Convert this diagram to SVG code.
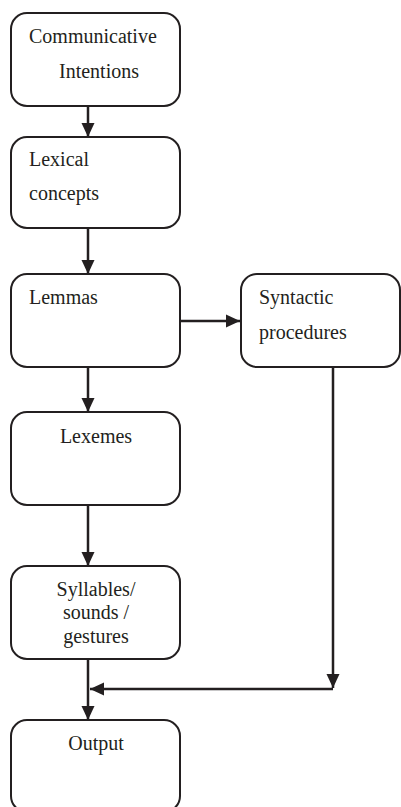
<svg xmlns="http://www.w3.org/2000/svg" width="401" height="807" viewBox="0 0 401 807">
<style>
.box{fill:#fff;stroke:#231f20;stroke-width:2}
.t{font-family:"Liberation Serif","Times New Roman",serif;font-size:20px;fill:#231f20}
.c{text-anchor:middle}
.ln{stroke:#231f20;stroke-width:2.5;fill:none}
</style>
<defs>
<marker id="ah" markerUnits="userSpaceOnUse" markerWidth="14" markerHeight="14" viewBox="0 0 14 14" refX="14" refY="7" orient="auto">
<path d="M0,0.5 L14,7 L0,13.5 Z" fill="#231f20"/>
</marker>
</defs>
<rect width="401" height="807" fill="#fff"/>
<g id="connectors">
<line class="ln" x1="88" y1="106" x2="88" y2="137" marker-end="url(#ah)"/>
<line class="ln" x1="88" y1="228" x2="88" y2="274" marker-end="url(#ah)"/>
<line class="ln" x1="180" y1="321" x2="240" y2="321" marker-end="url(#ah)"/>
<line class="ln" x1="88" y1="367" x2="88" y2="412" marker-end="url(#ah)"/>
<line class="ln" x1="88" y1="505" x2="88" y2="566" marker-end="url(#ah)"/>
<line class="ln" x1="333" y1="367" x2="333" y2="688" marker-end="url(#ah)"/>
<line class="ln" x1="333" y1="689" x2="90" y2="689" marker-end="url(#ah)"/>
<line class="ln" x1="88" y1="659" x2="88" y2="720" marker-end="url(#ah)"/>
</g>
<g id="n1">
<rect class="box" x="11" y="13" width="169" height="93" rx="16"/>
<text class="t" x="29" y="43">Communicative</text>
<text class="t" x="59" y="78">Intentions</text>
</g>
<g id="n2">
<rect class="box" x="11" y="137" width="169" height="91" rx="16"/>
<text class="t" x="29" y="166">Lexical</text>
<text class="t" x="29" y="200">concepts</text>
</g>
<g id="n3">
<rect class="box" x="11" y="274" width="169" height="93" rx="16"/>
<text class="t" x="29" y="304">Lemmas</text>
</g>
<g id="n4">
<rect class="box" x="241" y="274" width="159" height="93" rx="16"/>
<text class="t" x="259" y="304">Syntactic</text>
<text class="t" x="259" y="339">procedures</text>
</g>
<g id="n5">
<rect class="box" x="11" y="412" width="169" height="93" rx="16"/>
<text class="t c" x="96" y="443">Lexemes</text>
</g>
<g id="n6">
<rect class="box" x="11" y="566" width="169" height="93" rx="16"/>
<text class="t c" x="96" y="596">Syllables/</text>
<text class="t c" x="96" y="619">sounds /</text>
<text class="t c" x="96" y="643">gestures</text>
</g>
<g id="n7">
<rect class="box" x="11" y="720" width="169" height="92" rx="16"/>
<text class="t c" x="96" y="750">Output</text>
</g>
</svg>
